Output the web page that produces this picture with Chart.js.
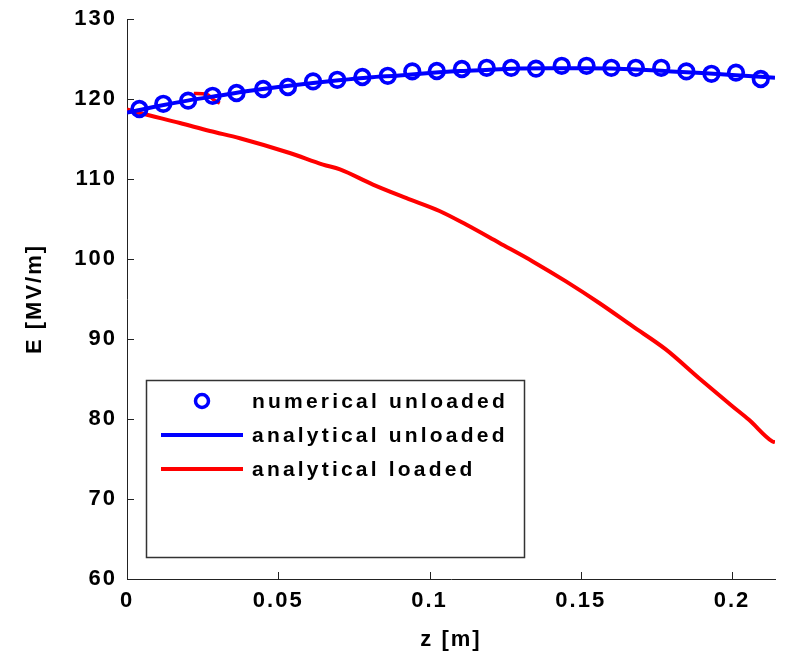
<!DOCTYPE html>
<html>
<head>
<meta charset="utf-8">
<script src="https://cdn.jsdelivr.net/npm/chart.js@4/dist/chart.umd.min.js"></script>
<style>
  html, body { margin: 0; padding: 0; background: #ffffff; }
  canvas { display: block; }
</style>
</head>
<body>
<canvas id="c" width="786" height="656"></canvas>
<script>
// ---- data ----
const seriesNames = ["numerical unloaded", "analytical unloaded", "analytical loaded"];

const zNumerical = [0.0041, 0.0120, 0.0202, 0.0283, 0.0362, 0.0450, 0.0532, 0.0615, 0.0695, 0.0778,
                    0.0862, 0.0943, 0.1024, 0.1107, 0.1189, 0.1270, 0.1352, 0.1437, 0.1519, 0.1601,
                    0.1682, 0.1766, 0.1849, 0.1932, 0.2013, 0.2095];
const eNumerical = [118.75, 119.4, 119.8, 120.4, 120.75, 121.25, 121.5, 122.2, 122.4, 122.75,
                    122.9, 123.45, 123.5, 123.75, 123.9, 123.9, 123.8, 124.15, 124.15, 123.9,
                    123.9, 123.9, 123.45, 123.15, 123.3, 122.5];

const zAnaUnloaded = [0, 0.01, 0.02, 0.03, 0.04, 0.05, 0.06, 0.07, 0.08, 0.09, 0.10, 0.11,
                      0.12, 0.13, 0.14, 0.15, 0.16, 0.17, 0.18, 0.19, 0.20, 0.2142];
const eAnaUnloaded = [118.3, 119.1, 119.8, 120.4, 121.0, 121.5, 121.95, 122.35, 122.7, 122.95, 123.25, 123.5,
                      123.65, 123.8, 123.85, 123.85, 123.8, 123.65, 123.45, 123.25, 123.0, 122.65];

const zAnaLoaded = [0, 0.0043, 0.0175, 0.0274, 0.0373, 0.0538, 0.0648, 0.0704, 0.0813, 0.0924,
                    0.1033, 0.1121, 0.1231, 0.1341, 0.1451, 0.1561, 0.1671, 0.1781, 0.1891, 0.2001,
                    0.2056, 0.2133, 0.2142];
const eAnaLoaded = [118.7, 118.25, 117.0, 116.0, 115.1, 113.25, 111.8, 111.2, 109.3, 107.6,
                    106.0, 104.3, 102.0, 99.7, 97.2, 94.5, 91.6, 88.7, 85.1, 81.6,
                    79.9, 77.2, 77.1];

// small stray red stroke visible in the original figure
const zStray = [0.0221, 0.0263, 0.0290, 0.0307];
const eStray = [120.7, 120.6, 119.8, 119.5];

const xTickValues = [0, 0.05, 0.1, 0.15, 0.2];
const yTickValues = [60, 70, 80, 90, 100, 110, 120, 130];
const xRange = [0, 0.2142];
const yRange = [60, 130];
const xTitle = "z [m]";
const yTitle = "E [MV/m]";

function pts(xs, ys) { return xs.map((x, i) => ({ x: x, y: ys[i] })); }

const BLUE = "#0000ff";
const RED = "#ff0000";
const FONT_FAMILY = "'Liberation Sans', Arial, Helvetica, sans-serif";

const spacingPlugin = {
  id: "spacing",
  beforeUpdate(chart) { chart.ctx.letterSpacing = "2px"; },
  beforeDraw(chart) { chart.ctx.letterSpacing = "2px"; }
};

const tickMarkPlugin = {
  id: "tickMarks",
  afterDatasetsDraw(chart) {
    const { ctx, chartArea, scales } = chart;
    ctx.save();
    ctx.strokeStyle = "#222";
    ctx.lineWidth = 1;
    const len = 7;
    scales.x.ticks.forEach(t => {
      if (t.value === xRange[0]) return;
      const px = Math.round(scales.x.getPixelForValue(t.value)) + 0.5;
      ctx.beginPath(); ctx.moveTo(px, chartArea.bottom); ctx.lineTo(px, chartArea.bottom - len); ctx.stroke();
    });
    scales.y.ticks.forEach(t => {
      if (t.value === yRange[0]) return;
      const py = Math.round(scales.y.getPixelForValue(t.value)) + 0.5;
      ctx.beginPath(); ctx.moveTo(chartArea.left, py); ctx.lineTo(chartArea.left + len, py); ctx.stroke();
    });
    ctx.restore();
  }
};

const legendBoxPlugin = {
  id: "legendBox",
  afterDraw(chart) {
    const { ctx, chartArea } = chart;
    const bx = chartArea.left + 19, by = chartArea.top + 361, bw = 378, bh = 177;
    ctx.save();
    ctx.fillStyle = "#ffffff";
    ctx.fillRect(bx, by, bw, bh);
    ctx.strokeStyle = "#333";
    ctx.lineWidth = 1.5;
    ctx.strokeRect(bx + 0.5, by + 0.5, bw, bh);
    const rows = [by + 21, by + 55, by + 89];
    const ds = chart.data.datasets;
    ctx.strokeStyle = ds[0].borderColor;
    ctx.lineWidth = 3.5;
    ctx.beginPath(); ctx.arc(bx + 56, rows[0], 6.5, 0, Math.PI * 2); ctx.stroke();
    [1, 2].forEach((k, i) => {
      ctx.strokeStyle = ds[k].borderColor;
      ctx.lineWidth = 4;
      ctx.beginPath(); ctx.moveTo(bx + 15, rows[i + 1]); ctx.lineTo(bx + 97, rows[i + 1]); ctx.stroke();
    });
    ctx.fillStyle = "#000";
    ctx.font = "bold 21px " + FONT_FAMILY;
    ctx.letterSpacing = "3.2px";
    ctx.textAlign = "left";
    ctx.textBaseline = "middle";
    seriesNames.forEach((n, i) => ctx.fillText(n, bx + 106, rows[i] + 1));
    ctx.restore();
  }
};

new Chart(document.getElementById("c"), {
  type: "scatter",
  data: {
    datasets: [
      {
        label: seriesNames[0],
        data: pts(zNumerical, eNumerical),
        showLine: false,
        pointStyle: "circle",
        pointRadius: 7.3,
        pointBorderWidth: 3.7,
        borderColor: BLUE,
        pointBorderColor: BLUE,
        backgroundColor: "rgba(0,0,0,0)",
        pointBackgroundColor: "rgba(0,0,0,0)",
        order: 0
      },
      {
        label: seriesNames[1],
        data: pts(zAnaUnloaded, eAnaUnloaded),
        showLine: true,
        borderColor: BLUE,
        borderWidth: 4,
        pointRadius: 0,
        cubicInterpolationMode: "monotone",
        order: 1
      },
      {
        label: seriesNames[2],
        data: pts(zAnaLoaded, eAnaLoaded),
        showLine: true,
        borderColor: RED,
        borderWidth: 4,
        pointRadius: 0,
        cubicInterpolationMode: "monotone",
        order: 3
      },
      {
        label: "",
        data: pts(zStray, eStray),
        showLine: true,
        borderColor: RED,
        borderWidth: 3.5,
        pointRadius: 0,
        cubicInterpolationMode: "monotone",
        order: 2
      }
    ]
  },
  options: {
    responsive: false,
    devicePixelRatio: 1,
    animation: false,
    events: [],
    layout: { padding: { top: 19, right: 10, left: 0, bottom: 0 } },
    plugins: {
      legend: { display: false },
      tooltip: { enabled: false }
    },
    scales: {
      x: {
        type: "linear",
        min: xRange[0],
        max: xRange[1],
        afterBuildTicks(scale) { scale.ticks = xTickValues.map(v => ({ value: v })); },
        afterFit(scale) { scale.height = 77; scale.paddingLeft = 0; scale.paddingRight = 0; },
        grid: { display: false, drawTicks: false },
        border: { display: true, color: "#222", width: 1 },
        ticks: {
          padding: 9,
          color: "#000",
          maxRotation: 0,
          font: { family: FONT_FAMILY, size: 22, weight: "bold" },
          callback: v => String(v)
        },
        title: {
          display: true,
          text: xTitle,
          color: "#000",
          font: { family: FONT_FAMILY, size: 22, weight: "bold" },
          padding: { top: 0, bottom: 3 }
        }
      },
      y: {
        type: "linear",
        min: yRange[0],
        max: yRange[1],
        afterBuildTicks(scale) { scale.ticks = yTickValues.map(v => ({ value: v })); },
        afterFit(scale) { scale.width = 127; scale.paddingTop = 0; scale.paddingBottom = 0; },
        grid: { display: false, drawTicks: false },
        border: { display: true, color: "#222", width: 1 },
        ticks: {
          padding: 10,
          color: "#000",
          font: { family: FONT_FAMILY, size: 22, weight: "bold" },
          callback: v => String(v)
        },
        title: {
          display: true,
          text: yTitle,
          color: "#000",
          font: { family: FONT_FAMILY, size: 22, weight: "bold" },
          padding: { top: 22, bottom: 0 }
        }
      }
    }
  },
  plugins: [spacingPlugin, tickMarkPlugin, legendBoxPlugin]
});
</script>
</body>
</html>
